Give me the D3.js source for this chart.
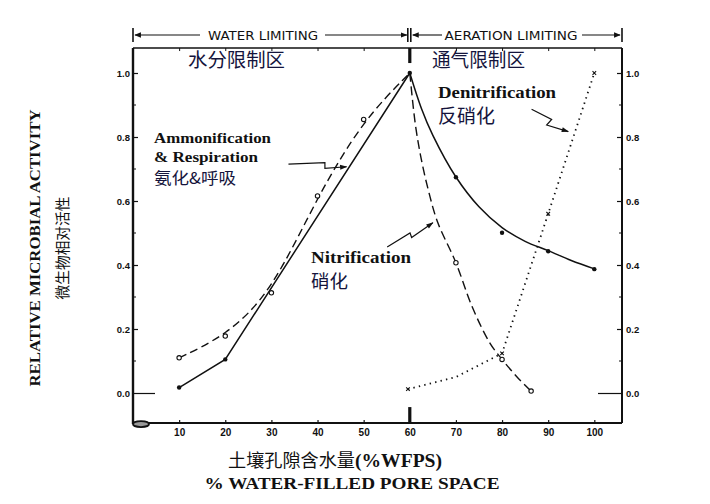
<!DOCTYPE html>
<html><head><meta charset="utf-8">
<script src="https://cdn.jsdelivr.net/npm/d3@7"></script>
<style>
body{margin:0;background:#fff;}
svg{display:block;}
</style></head>
<body>
<svg id="c" width="710" height="504"></svg>
<script>
// ---- data ----
const xTicks = [10,20,30,40,50,60,70,80,90,100];
const yTicks = [0,0.2,0.4,0.6,0.8,1.0];
const yMinor = [0.1,0.3,0.5,0.7,0.9];
// Ammonification & Respiration (solid)
const ammLeft = [[10,0.017],[20,0.105],[60,1.0]];
const ammRightCurve = [[60,1.0],[62.5,0.89],[65,0.805],[70,0.675],[75,0.582],[80,0.517],[85,0.474],[90,0.445],[95,0.414],[100,0.388]];
const ammDots = [[10,0.017],[20,0.105],[60,1.0],[70,0.674],[80,0.501],[90,0.443],[100,0.387]];
// Nitrification (dashed)
const nitLeft = [[10,0.110],[20,0.178],[30,0.313],[40,0.616],[50,0.855],[60,1.0]];
const nitRightCurve = [[60,1.0],[61.2,0.84],[62.5,0.73],[64,0.635],[66,0.535],[70,0.407],[73.5,0.27],[77.4,0.155],[80,0.105],[83.2,0.051],[86.3,0.006]];
const nitCircles = [[10,0.110],[20,0.178],[30,0.313],[40,0.616],[50,0.855],[70,0.407],[80,0.105],[86.3,0.006]];
// Denitrification (dotted)
const denit = [[59.6,0.012],[70,0.05],[80,0.124],[90,0.56],[100,1.0]];
const denitMarks = [[59.6,0.012],[80,0.124],[90,0.56],[100,1.0]];
// annotation arrows (data units)
const arrowAmm = [[33.7,0.715],[41.6,0.720],[41.6,0.702],[46.3,0.707]];
const arrowNit = [[55.1,0.456],[60.05,0.50],[60.4,0.486],[65.0,0.532]];
const arrowDen = [[86.4,0.887],[90.75,0.855],[89.67,0.8375],[94.35,0.817]];

// ---- scales ----
const x = d3.scaleLinear().domain([0,106]).range([133,622]);
const y = d3.scaleLinear().domain([0,1]).range([393,73]);
const yBottom = y(-0.094), yTop = y(1.078);

const svg = d3.select('#c');
const ink = '#111';
const cjk = '#14143c';

// ---- frame ----
const frame = svg.append('g').attr('stroke',ink).attr('fill','none');
frame.append('line').attr('x1',x(0)).attr('x2',x(106)).attr('y1',yBottom).attr('y2',yBottom).attr('stroke-width',2);
frame.append('line').attr('x1',x(0)).attr('x2',x(106)).attr('y1',yTop).attr('y2',yTop).attr('stroke-width',1.6);
frame.append('line').attr('x1',x(0)).attr('x2',x(0)).attr('y1',yTop).attr('y2',yBottom+1).attr('stroke-width',2.4);
frame.append('line').attr('x1',x(106)).attr('x2',x(106)).attr('y1',yTop).attr('y2',yBottom).attr('stroke-width',2);
// thick divider bars at 60
frame.append('line').attr('x1',x(60)).attr('x2',x(60)).attr('y1',yBottom).attr('y2',yBottom-16).attr('stroke-width',3.2);
frame.append('line').attr('x1',x(60)).attr('x2',x(60)).attr('y1',yTop).attr('y2',yTop+15).attr('stroke-width',3.2);
// blob at bottom-left corner
svg.append('ellipse').attr('cx',x(0)+8).attr('cy',yBottom+1).attr('rx',8).attr('ry',3)
  .attr('fill','#999').attr('stroke',ink).attr('stroke-width',1.8);

// ---- axes ----
const fmt = d3.format('.1f');
const left = svg.append('g').attr('transform',`translate(${x(0)},0)`)
  .call(d3.axisLeft(y).tickValues(yTicks).tickSizeInner(-5).tickSizeOuter(0).tickPadding(3).tickFormat(fmt));
const right = svg.append('g').attr('transform',`translate(${x(106)},0)`)
  .call(d3.axisRight(y).tickValues(yTicks).tickSizeInner(-5).tickSizeOuter(0).tickPadding(4).tickFormat(fmt));
[left,right].forEach(g=>{
  g.select('.domain').remove();
  g.selectAll('.tick line').attr('stroke',ink).attr('stroke-width',1.2);
  g.selectAll('.tick text').attr('font-family','Liberation Sans, Arial, sans-serif').attr('font-size',9.5).attr('fill',ink).attr('font-weight','bold');
  g.selectAll('.tick').filter(d=>d===0).select('line').attr('x2', g===left?22:-24);
});
left.selectAll('.minor').data(yMinor).enter().append('line')
  .attr('x1',0).attr('x2',3).attr('y1',d=>y(d)).attr('y2',d=>y(d)).attr('stroke',ink).attr('stroke-width',1);
right.selectAll('.minor').data(yMinor).enter().append('line')
  .attr('x1',0).attr('x2',-3).attr('y1',d=>y(d)).attr('y2',d=>y(d)).attr('stroke',ink).attr('stroke-width',1);

const bottom = svg.append('g').attr('transform',`translate(0,${yBottom})`)
  .call(d3.axisBottom(x).tickValues(xTicks).tickSizeInner(-3).tickSizeOuter(0).tickPadding(6).tickFormat(d3.format('d')));
bottom.select('.domain').remove();
bottom.selectAll('.tick line').attr('stroke',ink).attr('stroke-width',1.2);
bottom.selectAll('.tick text').attr('font-family','Liberation Sans, Arial, sans-serif').attr('font-size',10).attr('fill',ink).attr('font-weight','bold');
const topAx = svg.append('g').attr('transform',`translate(0,${yTop})`)
  .call(d3.axisTop(x).tickValues(xTicks.filter(d=>d!==60)).tickSizeInner(-3).tickSizeOuter(0).tickFormat(''));
topAx.select('.domain').remove();
topAx.selectAll('.tick line').attr('stroke',ink).attr('stroke-width',1);

// ---- header ----
const hy = 35;
const hdr = svg.append('g');
hdr.append('defs').html(`
<marker id="ah" viewBox="0 0 10 10" refX="9" refY="5" markerWidth="6" markerHeight="6" orient="auto-start-reverse">
<path d="M0,1 L10,5 L0,9 z" fill="${ink}"/></marker>
<marker id="ah2" viewBox="0 0 10 10" refX="9" refY="5" markerWidth="7" markerHeight="6" orient="auto">
<path d="M0,1.5 L10,5 L0,8.5 z" fill="${ink}"/></marker>`);
[[x(0),x(60)-2],[x(60)+1,x(106)]].forEach(([a,b])=>{
  hdr.append('line').attr('x1',a).attr('x2',a).attr('y1',hy-7).attr('y2',hy+7).attr('stroke',ink).attr('stroke-width',1.6);
  hdr.append('line').attr('x1',b).attr('x2',b).attr('y1',hy-7).attr('y2',hy+7).attr('stroke',ink).attr('stroke-width',1.6);
});
const arrowSeg = (a,b)=>hdr.append('line').attr('x1',a).attr('x2',b).attr('y1',hy).attr('y2',hy)
  .attr('stroke',ink).attr('stroke-width',1.1).attr('marker-end','url(#ah)');
arrowSeg(200,x(0)+2); arrowSeg(325,x(60)-3);
arrowSeg(442,x(60)+3); arrowSeg(582,x(106)-2);
hdr.append('text').attr('x',263).attr('y',hy+5).attr('text-anchor','middle').attr('font-family','DejaVu Sans, sans-serif')
  .attr('font-size',13).attr('textLength',110).attr('lengthAdjust','spacingAndGlyphs').attr('fill',ink).text('WATER LIMITING');
hdr.append('text').attr('x',511).attr('y',hy+5).attr('text-anchor','middle').attr('font-family','DejaVu Sans, sans-serif')
  .attr('font-size',13).attr('textLength',133).attr('lengthAdjust','spacingAndGlyphs').attr('fill',ink).text('AERATION LIMITING');

// ---- lines ----
const line = d3.line().x(d=>x(d[0])).y(d=>y(d[1]));
const plot = svg.append('g').attr('fill','none');
plot.append('path').datum(ammLeft).attr('d',line.curve(d3.curveLinear)).attr('stroke',ink).attr('stroke-width',1.5);
plot.append('path').datum(ammRightCurve).attr('d',line.curve(d3.curveCatmullRom.alpha(0.5))).attr('stroke',ink).attr('stroke-width',1.5);
plot.append('path').datum(nitLeft).attr('d',line.curve(d3.curveBasis)).attr('stroke',ink).attr('stroke-width',1.4).attr('stroke-dasharray','8,4.5');
plot.append('path').datum(nitRightCurve).attr('d',line.curve(d3.curveCatmullRom.alpha(0.5))).attr('stroke',ink).attr('stroke-width',1.4).attr('stroke-dasharray','9,4.5');
plot.append('path').datum(denit).attr('d',line.curve(d3.curveLinear)).attr('stroke',ink).attr('stroke-width',1.8).attr('stroke-dasharray','1.4,4.2');

// markers
svg.append('g').selectAll('circle').data(ammDots).enter().append('circle')
  .attr('cx',d=>x(d[0])).attr('cy',d=>y(d[1])).attr('r',2.2).attr('fill',ink);
svg.append('g').selectAll('circle').data(nitCircles).enter().append('circle')
  .attr('cx',d=>x(d[0])).attr('cy',d=>y(d[1])).attr('r',2.2).attr('fill','#fff').attr('stroke',ink).attr('stroke-width',1.1);
svg.append('g').selectAll('path').data(denitMarks).enter().append('path')
  .attr('d',d=>{const cx=x(d[0]),cy=y(d[1]);return `M${cx-1.8},${cy-1.8}L${cx+1.8},${cy+1.8}M${cx-1.8},${cy+1.8}L${cx+1.8},${cy-1.8}`;})
  .attr('stroke',ink).attr('stroke-width',1.1);

// annotation arrows
[arrowAmm,arrowNit,arrowDen].forEach(a=>{
  svg.append('path').datum(a).attr('d',d3.line().x(d=>x(d[0])).y(d=>y(d[1]))).attr('fill','none')
    .attr('stroke',ink).attr('stroke-width',1.2).attr('marker-end','url(#ah2)');
});

// ---- labels ----
const serif = 'Liberation Serif, Times New Roman, serif';
const cjkFont = 'Noto Sans CJK SC, sans-serif';
function t(xp,yp,str,opt){
  const e = svg.append('text').attr('x',xp).attr('y',yp).text(str)
    .attr('font-family',opt.cjk?cjkFont:serif).attr('font-size',opt.size)
    .attr('font-weight',opt.bold?'bold':'normal').attr('fill',opt.fill||ink);
  if(opt.len) e.attr('textLength',opt.len).attr('lengthAdjust','spacingAndGlyphs');
  if(opt.anchor) e.attr('text-anchor',opt.anchor);
  return e;
}
t(188,67,'水分限制区',{cjk:true,size:19,fill:cjk,len:97});
t(432,67,'通气限制区',{cjk:true,size:19,fill:cjk,len:93});
t(154,143,'Ammonification',{bold:true,size:15,len:117});
t(154,162,'& Respiration',{bold:true,size:15,len:104});
t(154,184,'氨化&呼吸',{cjk:true,size:16,fill:cjk,len:82});
t(311,263,'Nitrification',{bold:true,size:16,len:100});
t(311,288,'硝化',{cjk:true,size:18,fill:cjk,len:37});
t(438,98,'Denitrification',{bold:true,size:16,len:118});
t(438,123,'反硝化',{cjk:true,size:19,fill:cjk,len:57});
// x axis titles
t(228,467,'土壤孔隙含水量',{cjk:true,size:18,len:127});
t(355,467,'(%WFPS)',{bold:true,size:18,len:87});
t(352,489,'% WATER-FILLED PORE SPACE',{bold:true,size:17,len:295,anchor:'middle'});
// y axis titles
t(0,0,'RELATIVE MICROBIAL ACTIVITY',{bold:true,size:15,len:277,anchor:'middle'})
  .attr('transform','translate(40,248) rotate(-90)');
t(0,0,'微生物相对活性',{cjk:true,size:15,len:103,anchor:'middle'})
  .attr('transform','translate(68,248) rotate(-90)');
</script>
</body></html>
